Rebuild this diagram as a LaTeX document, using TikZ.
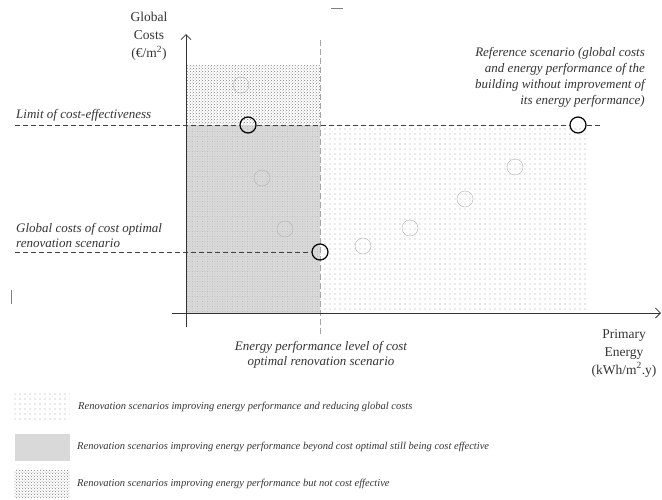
\documentclass[tikz,border=0pt]{standalone}
\usepackage{fontspec}
\setmainfont{Liberation Serif}
\usetikzlibrary{patterns, patterns.meta, positioning, arrows.meta}

\begin{document}
\begin{tikzpicture}[x=1pt, y=-1pt, every node/.style={font=\fontsize{13}{15.5}\selectfont\itshape, text=black!80},
        scen/.style={draw=gray!60, circle, minimum size=16pt, inner sep=0pt},
        keypt/.style={draw=black, very thick, circle, minimum size=16pt, inner sep=0pt},
        guide/.style={thick, black!75, dash pattern=on 5pt off 3pt},
        axlabel/.style={font=\fontsize{13.5}{18}\selectfont, align=center},
        legtext/.style={font=\fontsize{10.5}{12}\selectfont\itshape},
        lightdots/.style={pattern={Dots[distance=5pt, radius=0.6pt]}, pattern color=gray!75},
        greyzone/.style={fill=gray!30},
        checkdots/.style={pattern=crosshatch dots, pattern color=gray},
        swatch/.style={minimum width=55pt, minimum height=27pt, inner sep=0pt}]
        \useasboundingbox (0,0) rectangle (662,499);
        % Zones
        \fill[checkdots] (186,65) rectangle (320,125);
        \fill[greyzone] (186,125) rectangle (320,313);
        \fill[pattern={Dots[distance=2.5pt, radius=0.45pt]}, pattern color=gray!65] (186,125) rectangle (320,313);
        \fill[lightdots] (320,125) rectangle (588,313);
        % Cost optimal level
        \draw[gray!70, thick, dash pattern=on 6pt off 3pt] (320,40) -- (320,335);
        % Axes
        \draw[-{Straight Barb[length=5pt]}, thick, black!80] (186,327) -- (186,34);
        \draw[-{Straight Barb[length=5pt]}, thick, black!80] (172,313) -- (661,313);
        \node[axlabel] (ylab) at (149,36) {Global\\Costs\\(€/m\textsuperscript{2})};
        \node[axlabel] (xlab) at (624,353) {Primary\\Energy\\(kWh/m\textsuperscript{2}.y)};
        % Key scenarios
        \node[keypt] (limit) at (248,125) {};
        \node[keypt] (ref) at (578,125) {};
        \node[keypt] (opt) at (320,252) {};
        % Other scenarios
        \node[scen] (s1) at (241,85) {};
        \node[scen] (s2) at (262,178) {};
        \node[scen] (s3) at (285,229) {};
        \node[scen] (s4) at (363,246) {};
        \node[scen] (s5) at (410,228) {};
        \node[scen] (s6) at (465,199) {};
        \node[scen] (s7) at (515,167) {};
        % Labels
        \node[anchor=south west, inner sep=1pt] (limtxt) at (15,122) {Limit of cost-effectiveness};
        \node[anchor=south west, align=left, inner sep=1pt] (opttxt) at (15,249) {Global costs of cost optimal\\renovation scenario};
        \node[anchor=south east, align=right, inner sep=1pt, font=\fontsize{13}{16}\selectfont\itshape] (reftxt) at (646,109) {Reference scenario (global costs\\and energy performance of the\\building without improvement of\\its energy performance)};
        \node[align=center] (levtxt) at (321,355) {Energy performance level of cost\\optimal renovation scenario};
        \coordinate (limend) at (601,125);
        \coordinate (optstart) at (15,252);
        \draw[guide] (limtxt.south west |- limit) -- (limit) -- (ref) -- (limend);
        \draw[guide] (optstart) -- (opt);
        % Legend
        \node[swatch, lightdots] (sw1) at (42,407) {};
        \node[swatch, greyzone] (sw2) at (42,447) {};
        \node[swatch, checkdots] (sw3) at (42,484) {};
        \node[legtext, right=5pt of sw1] (lg1) {Renovation scenarios improving energy performance and reducing global costs};
        \node[legtext, right=4pt of sw2] (lg2) {Renovation scenarios improving energy performance beyond cost optimal still being cost effective};
        \node[legtext, right=4pt of sw3] (lg3) {Renovation scenarios improving energy performance but not cost effective};
        % Stray marks
        \draw[gray, thick] (331,8) -- (343,8);
        \draw[gray, thick] (11,290) -- (11,304);
    \end{tikzpicture}
\end{document}
